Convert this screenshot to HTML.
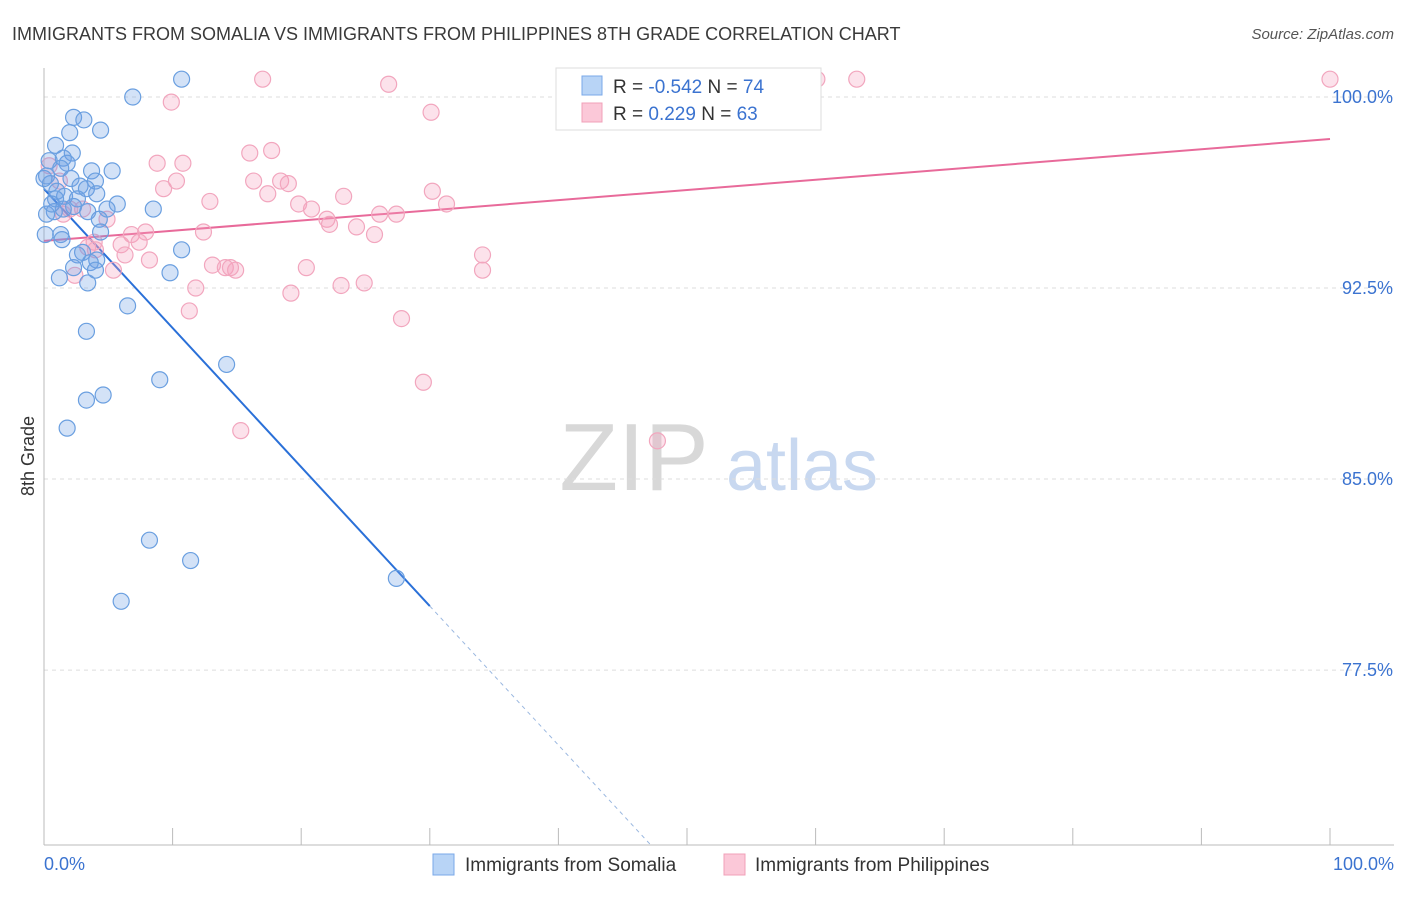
<!DOCTYPE html>
<html><head><meta charset="utf-8"><style>
body{margin:0;background:#fff;font-family:"Liberation Sans",sans-serif;}
svg text{font-family:"Liberation Sans",sans-serif;}
</style></head><body>
<svg id="chart" width="1406" height="892" viewBox="0 0 1406 892" xmlns="http://www.w3.org/2000/svg">
<text x="12" y="40" font-size="18" fill="#3a3a3a">IMMIGRANTS FROM SOMALIA VS IMMIGRANTS FROM PHILIPPINES 8TH GRADE CORRELATION CHART</text>
<text x="1394" y="39" font-size="15" fill="#555" text-anchor="end" font-style="italic">Source: ZipAtlas.com</text>
<g>
<text x="634" y="490" font-size="96" fill="#d8d8d8" text-anchor="middle" font-family="Liberation Serif">ZIP</text>
<text x="802" y="490" font-size="72" fill="#c8d8f0" text-anchor="middle">atlas</text>
</g>
<g id="grid"></g>
<g id="axes"></g>
<g id="lines"></g>
<g id="points"></g>
<text transform="translate(34,456) rotate(-90)" font-size="18" fill="#333" text-anchor="middle">8th Grade</text>
<text x="44" y="870" font-size="18" fill="#3b73d0">0.0%</text>
<text x="1394" y="870" font-size="18" fill="#3b73d0" text-anchor="end">100.0%</text>
<g>
<rect x="556" y="68" width="265" height="62" fill="#fff" stroke="#ddd"/>
<rect x="582" y="76" width="20" height="19" fill="#b8d4f6" stroke="#7aa8e8"/>
<rect x="582" y="103" width="20" height="19" fill="#fbc8d8" stroke="#f0a0b8"/>
<text x="613" y="93" font-size="19" fill="#333">R = <tspan fill="#3b73d0">-0.542</tspan>   N = <tspan fill="#3b73d0">74</tspan></text>
<text x="613" y="120" font-size="19" fill="#333">R = <tspan fill="#3b73d0"> 0.229</tspan>   N = <tspan fill="#3b73d0">63</tspan></text>
</g>
<g>
<rect x="433" y="854" width="21" height="21" fill="#b8d4f6" stroke="#7aa8e8"/>
<text x="465" y="871" font-size="19" fill="#333">Immigrants from Somalia</text>
<rect x="724" y="854" width="21" height="21" fill="#fbc8d8" stroke="#f0a0b8"/>
<text x="755" y="871" font-size="19" fill="#333">Immigrants from Philippines</text>
</g>
</svg>
<script>
const yTicks=[100,92.5,85,77.5];
const yTickLabels=["100.0%","92.5%","85.0%","77.5%"];
const xTicks=[0,10,20,30,40,50,60,70,80,90,100];
const somaliaX=[10.7,6.9,2.3,3.1,4.4,2.0,0.9,2.2,1.5,0.4,1.8,3.7,5.3,1.3,0.2,2.1,4.0,0.5,2.8,3.3,1.0,4.1,1.6,2.6,0.9,5.7,2.3,4.9,8.5,0.8,1.5,3.4,4.3,4.4,1.3,1.4,10.7,3.0,2.6,4.1,3.6,2.3,4.0,9.8,1.2,3.4,6.5,3.3,14.2,9.0,4.6,3.3,1.8,8.2,11.4,27.4,6.0,0.1,0.2,0.6,0.0];
const somaliaY=[100.7,100.0,99.2,99.1,98.7,98.6,98.1,97.8,97.6,97.5,97.4,97.1,97.1,97.2,96.9,96.8,96.7,96.6,96.5,96.4,96.3,96.2,96.1,96.0,96.0,95.8,95.7,95.6,95.6,95.5,95.6,95.5,95.2,94.7,94.6,94.4,94.0,93.9,93.8,93.6,93.5,93.3,93.2,93.1,92.9,92.7,91.8,90.8,89.5,88.9,88.3,88.1,87.0,82.6,81.8,81.1,80.2,94.6,95.4,95.8,96.8];
const philX=[17.0,26.8,60.1,63.2,100,9.9,30.1,16.0,17.7,8.8,10.8,0.4,1.2,10.3,9.3,16.3,18.4,19.0,17.4,30.2,12.9,19.8,23.3,20.8,31.3,1.5,26.1,27.4,3.0,4.9,22.0,22.2,24.3,12.4,25.7,6.8,7.9,3.9,6.0,7.4,6.3,8.2,13.1,14.1,14.9,20.4,34.1,34.1,5.4,2.4,11.8,19.2,23.1,24.9,11.3,27.8,29.5,15.3,47.7,14.5,3.4,2.0,4.0];
const philY=[100.7,100.5,100.7,100.7,100.7,99.8,99.4,97.8,97.9,97.4,97.4,97.3,96.7,96.7,96.4,96.7,96.7,96.6,96.2,96.3,95.9,95.8,96.1,95.6,95.8,95.4,95.4,95.4,95.6,95.2,95.2,95.0,94.9,94.7,94.6,94.6,94.7,94.3,94.2,94.3,93.8,93.6,93.4,93.3,93.2,93.3,93.8,93.2,93.2,93.0,92.5,92.3,92.6,92.7,91.6,91.3,88.8,86.9,86.5,93.3,94.1,95.6,94.0];
const somaliaTrend=[96.39,41.8];
const philTrend=[94.35,98.35];
const NS="http://www.w3.org/2000/svg";
const X=v=>44+v*12.86;
const Y=v=>97+(100-v)*25.47;
function mk(tag,attrs,parent){const e=document.createElementNS(NS,tag);for(const k in attrs)e.setAttribute(k,attrs[k]);document.getElementById(parent).appendChild(e);return e;}
yTicks.forEach((t,i)=>{
 const g=mk('line',{x1:44,x2:1394,y1:Y(t),y2:Y(t),stroke:'#ddd','stroke-dasharray':'4,4'},'grid');
 
 
 const l=mk('text',{x:1393,y:Y(t)+6,'font-size':18,fill:'#3b73d0','text-anchor':'end'},'grid');
 l.textContent=yTickLabels[i];
 
 
});
const ax=mk('line',{x1:44,x2:44,y1:68,y2:845,stroke:'#bbb'},'axes');


const bx=mk('line',{x1:44,x2:1394,y1:845,y2:845,stroke:'#bbb'},'axes');


xTicks.forEach(t=>{
 const k=mk('line',{x1:X(t),x2:X(t),y1:828,y2:845,stroke:'#bbb'},'axes');
 
 
});
// Somalia trend: solid to x=30, dashed after
const xs=30, ys=somaliaTrend[0]+(somaliaTrend[1]-somaliaTrend[0])*xs/100;
const xEnd=(somaliaTrend[0]-70.6)/(somaliaTrend[0]-somaliaTrend[1])*100;
const s1=mk('line',{x1:X(0),y1:Y(somaliaTrend[0]),x2:X(xs),y2:Y(ys),stroke:'#2a70d8','stroke-width':2},'lines');


const s2=mk('line',{x1:X(xs),y1:Y(ys),x2:X(xEnd),y2:Y(70.6),stroke:'#9bb8e0','stroke-width':1,'stroke-dasharray':'4,4'},'lines');


const p1=mk('line',{x1:X(0),y1:Y(philTrend[0]),x2:X(100),y2:Y(philTrend[1]),stroke:'#e86a9a','stroke-width':2},'lines');


philX.forEach((x,i)=>{
 const c=mk('circle',{cx:X(x),cy:Y(philY[i]),r:8,fill:'rgba(245,160,190,0.3)',stroke:'#f2a6be','stroke-width':1.2},'points');
 
 
});
somaliaX.forEach((x,i)=>{
 const c=mk('circle',{cx:X(x),cy:Y(somaliaY[i]),r:8,fill:'rgba(110,160,230,0.3)',stroke:'#6a9fe0','stroke-width':1.2},'points');
 
 
});
</script>
</body></html>
